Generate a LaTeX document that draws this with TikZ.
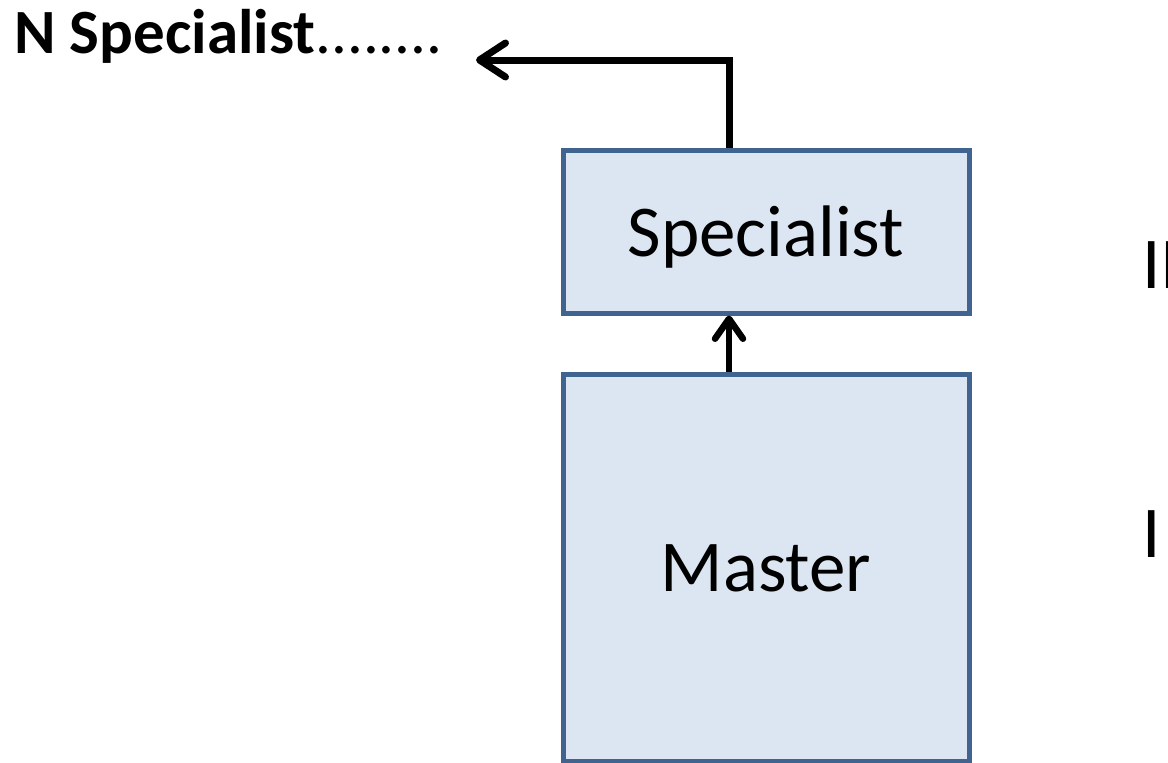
\documentclass[tikz,border=0pt]{standalone}
\usepackage{fontspec}
\setmainfont{Carlito}
\usetikzlibrary{arrows.meta}
\definecolor{boxfill}{HTML}{DCE6F2}
\definecolor{boxline}{HTML}{41638F}
\begin{document}
\begin{tikzpicture}[x=1pt,y=-1pt,
  box/.style={draw=boxline,fill=boxfill,line width=5pt,minimum width=406pt,inner sep=0pt,text depth=0pt,font=\fontsize{73}{80}\selectfont},
  conn/.style={line width=7pt,-{Straight Barb[length=26pt,width=34pt,line cap=round,line join=round]}},
  conn2/.style={line width=6.5pt,-{Straight Barb[length=20pt,width=28pt,line cap=round,line join=round]}},
  lab/.style={font=\fontsize{73}{80}\selectfont,inner sep=0pt,anchor=base west}]
\useasboundingbox (0,0) rectangle (1168,763);
\clip (0,0) rectangle (1168,763);
\node[box,minimum height=163pt] (spec) at (766,231.5) {Specialist};
\node[box,minimum height=387pt] (mas) at (766,568) {Master};
\node[anchor=base west,inner sep=0pt,font=\fontsize{63}{70}\selectfont] (ns) at (14,53) {\textbf{N Specialist}........};
\node[lab] (two) at (1142,288) {II};
\node[lab] (one) at (1142,557) {I};
\coordinate (bend) at (729,60);
\coordinate (tip) at (476,60);
\draw[conn] (spec.north -| bend) -- (bend) -- (tip);
\draw[conn2] (mas.north -| bend) -- (spec.south -| bend);
\end{tikzpicture}
\end{document}
